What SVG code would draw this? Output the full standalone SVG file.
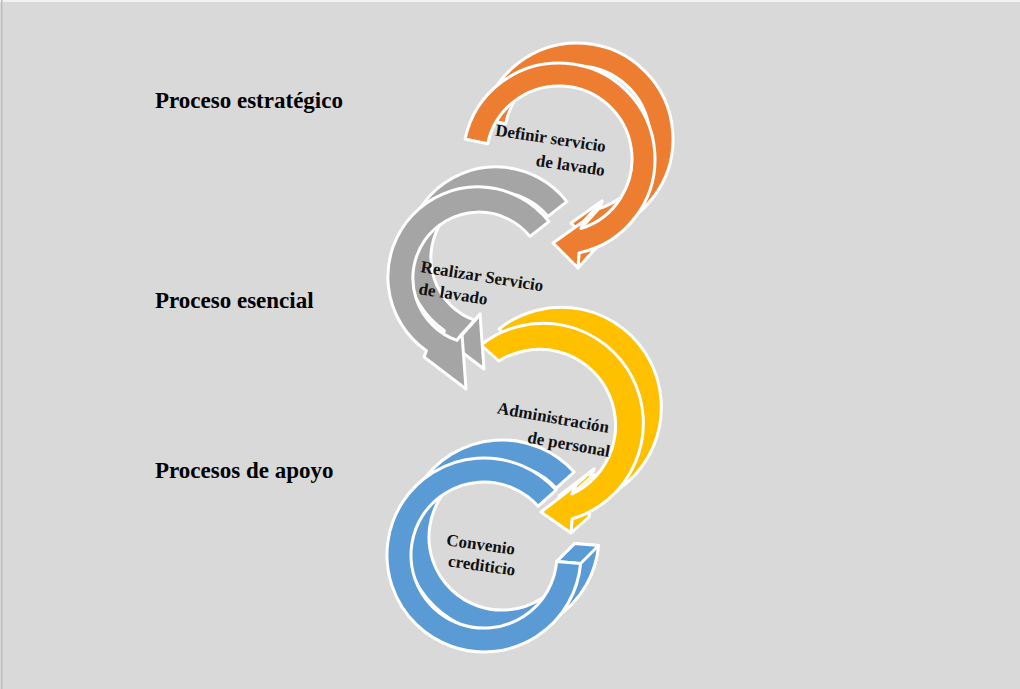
<svg xmlns="http://www.w3.org/2000/svg" width="1020" height="689" viewBox="0 0 1020 689">
  <style>
    .bg { fill: #d9d9d9; }
    .face { stroke: #ffffff; stroke-width: 3; stroke-linejoin: round; }
    .orange { fill: #ed7d31; }
    .gray { fill: #a5a5a5; }
    .yellow { fill: #ffc000; }
    .blue { fill: #5b9bd5; }
    .title { font-family: "Liberation Serif", "Times New Roman", serif; font-weight: bold; font-size: 23px; fill: #000; }
    .lbl { font-family: "Liberation Serif", "Times New Roman", serif; font-weight: bold; font-size: 17px; fill: #111; }
  </style>

  <rect class="bg" x="0" y="0" width="1020" height="689"/>
  <rect x="0" y="0" width="1020" height="2" fill="#f2f2f2"/>
  <rect x="1" y="0" width="1.5" height="689" fill="#bdbdbd"/>

  <!-- section headings -->
  <text class="title" x="155" y="108">Proceso estratégico</text>
  <text class="title" x="155" y="308">Proceso esencial</text>
  <text class="title" x="155" y="478">Procesos de apoyo</text>

  <g id="connectors"></g>

  <!-- 4: Convenio crediticio (counter-clockwise, flat end) -->
  <g id="node-convenio">
    <path class="face blue" transform="translate(18,-18)" d="M556.1,490.1 A97,97 0 1 0 580.6,563.5 L556.7,561.4 A73,73 0 1 1 538.2,506.2 Z"/>
    <path class="face blue" d="M556.7,561.4 L580.6,563.5 L598.6,545.5 L574.7,543.4 Z"/>
    <path class="face blue" d="M556.1,490.1 A97,97 0 1 0 580.6,563.5 L556.7,561.4 A73,73 0 1 1 538.2,506.2 Z"/>
    <text class="lbl" transform="translate(480,550) rotate(8)" text-anchor="middle">Convenio</text>
    <text class="lbl" transform="translate(481,571) rotate(8)" text-anchor="middle">crediticio</text>
  </g>

  <!-- 3: Administración de personal (clockwise) -->
  <g id="node-administracion">
    <path class="face yellow" transform="translate(18,-16)" d="M481,345 A100,100 0 1 1 572,519 L571,533 L541,512 L576,485 L572,494 A76,76 0 1 0 499,361 Z"/>
    <path class="face yellow" d="M576,485 L594,469 L590,478 L572,494 Z"/>
    <path class="face yellow" d="M572,519 L590,503 L589,517 L571,533 Z"/>
    <path class="face yellow" d="M481,345 A100,100 0 1 1 572,519 L571,533 L541,512 L576,485 L572,494 A76,76 0 1 0 499,361 Z"/>
    <text class="lbl" transform="translate(608,433) rotate(10)" text-anchor="end">Administración</text>
    <text class="lbl" transform="translate(609,457) rotate(10)" text-anchor="end">de personal</text>
  </g>

  <!-- 2: Realizar Servicio de lavado (counter-clockwise) -->
  <g id="node-realizar">
    <path class="face gray" transform="translate(18,-20)" d="M548.9,221.6 A90,90 0 1 0 426.4,350.7 L424,357 L466,389 L462,334 L457,340.4 A66,66 0 1 1 530,236.4 Z"/>
    <path class="face gray" d="M462,334 L480,314 L475,320.4 L457,340.4 Z"/>
    <path class="face gray" d="M548.9,221.6 A90,90 0 1 0 426.4,350.7 L424,357 L466,389 L462,334 L457,340.4 A66,66 0 1 1 530,236.4 Z"/>
    <text class="lbl" transform="translate(420,272) rotate(9)">Realizar Servicio</text>
    <text class="lbl" transform="translate(418,294) rotate(9)">de lavado</text>
  </g>

  <!-- 1: Definir servicio de lavado (clockwise) -->
  <g id="node-definir">
    <path class="face orange" transform="translate(18,-20)" d="M465.1,139 A96,96 0 1 1 579,252.9 L578,268 L553,243 L584,221 L580.9,228.6 A73,73 0 1 0 487.6,143.8 Z"/>
    <path class="face orange" d="M584,221 L602,201 L598.9,208.6 L580.9,228.6 Z"/>
    <path class="face orange" d="M579,252.9 L597,232.9 L596,248 L578,268 Z"/>
    <path class="face orange" d="M465.1,139 A96,96 0 1 1 579,252.9 L578,268 L553,243 L584,221 L580.9,228.6 A73,73 0 1 0 487.6,143.8 Z"/>
    <text class="lbl" transform="translate(605,152) rotate(8.5)" text-anchor="end">Definir servicio</text>
    <text class="lbl" transform="translate(604,176) rotate(8.5)" text-anchor="end">de lavado</text>
  </g>
</svg>
